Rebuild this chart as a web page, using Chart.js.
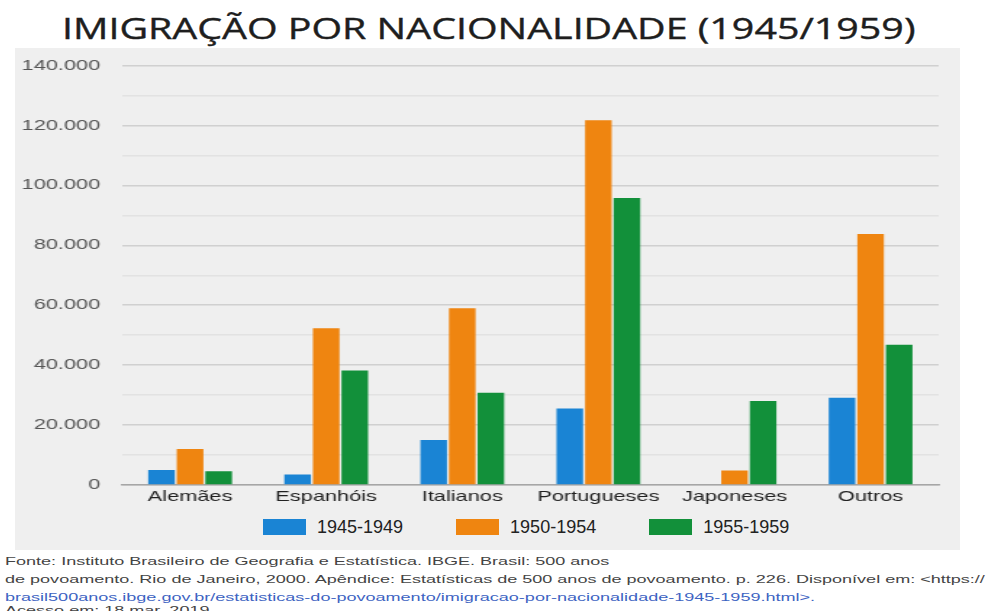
<!DOCTYPE html>
<html lang="pt-BR">
<head>
<meta charset="utf-8">
<title>Imigração por nacionalidade (1945/1959)</title>
<script src="https://cdn.jsdelivr.net/npm/chart.js@4"></script>
<style>
  html, body { margin: 0; padding: 0; background: #fff; }
  body { width: 990px; height: 611px; overflow: hidden; position: relative; font-family: "Liberation Sans", Arial, sans-serif; }
  #title { position: absolute; left: 62px; top: 7px; font-family: "Open Sans", sans-serif; font-size: 30px; line-height: 42px; color: #1e1e1e; -webkit-text-stroke: 0.4px #1e1e1e; white-space: nowrap; transform-origin: 0 0; }
  #panel { position: absolute; left: 15px; top: 48px; width: 945px; height: 502px; background: #efefef; }
  #stretch { position: absolute; left: 0; top: 0; width: 652px; height: 462px; transform: scaleX(1.45); transform-origin: 0 0; }
  #legend { position: absolute; left: 248px; top: 470px; display: flex; align-items: center; }
  .item { display: flex; align-items: center; margin-right: 53px; font-size: 18px; line-height: 18px; color: #222; }
  .box { width: 43px; height: 16px; margin-right: 11px; }
  #footer { position: absolute; left: 5px; top: 552px; font-size: 11.5px; line-height: 18px; color: #444; white-space: nowrap; transform-origin: 0 0; }
  .link { color: #3d63c2; }
  #access { margin-top: -5px; }
</style>
</head>
<body>
<div id="title">IMIGRAÇÃO POR NACIONALIDADE (1945/1959)</div>
<div id="panel">
  <div id="stretch"><canvas id="chart"></canvas></div>
  <div id="legend"></div>
</div>
<div id="footer">
  <div>Fonte: Instituto Brasileiro de Geografia e Estatística. IBGE. Brasil: 500 anos</div>
  <div id="line2">de povoamento. Rio de Janeiro, 2000. Apêndice: Estatísticas de 500 anos de povoamento. p. 226. Disponível em: &lt;https://</div>
  <div class="link">brasil500anos.ibge.gov.br/estatisticas-do-povoamento/imigracao-por-nacionalidade-1945-1959.html&gt;.</div>
  <div id="access">Acesso em: 18 mar. 2019.</div>
</div>
<script>
// * Data
const categories = ["Alemães", "Espanhóis", "Italianos", "Portugueses", "Japoneses", "Outros"];
const periods = ["1945-1949", "1950-1954", "1955-1959"];
const values1945 = [5000, 3500, 15000, 25500, 0, 29100];
const values1950 = [12000, 52300, 59000, 121700, 4800, 83800];
const values1955 = [4600, 38200, 30800, 95800, 28000, 46800];
const yMax = 140000;
const yLabelStep = 20000;
const yGridStep = 10000;

const colors = ["#1a84d4", "#ef8510", "#12903a"];
const series = [values1945, values1950, values1955];

// 140000 -> "140.000"
const fmt = (v) => String(v).replace(/\B(?=(\d{3})+(?!\d))/g, ".");

// * Title and footer are stretched like the picture
const title = document.getElementById("title");
title.style.transform = "scaleX(" + (853 / title.offsetWidth) + ")";
const footer = document.getElementById("footer");
const line2 = document.getElementById("line2");
footer.style.transform = "scaleX(" + (980 / line2.scrollWidth) + ")";

// * Legend
const legend = document.getElementById("legend");
periods.forEach((p, i) => {
  const item = document.createElement("div");
  item.className = "item";
  item.innerHTML = '<span class="box" style="background:' + colors[i] + '"></span>' + p;
  legend.appendChild(item);
});

// * Chart
Chart.defaults.font.family = '"Liberation Sans", Arial, sans-serif';

const ctx = document.getElementById("chart").getContext("2d");
const chart = new Chart(ctx, {
  type: "bar",
  data: {
    labels: categories,
    datasets: periods.map((p, i) => ({
      label: p,
      data: series[i],
      backgroundColor: colors[i],
      borderWidth: 0,
    })),
  },
  options: {
    responsive: true,
    maintainAspectRatio: false,
    animation: false,
    layout: { padding: { top: 17.5, right: 15, bottom: 1, left: 0 } },
    plugins: { legend: { display: false }, tooltip: { enabled: false } },
    datasets: { bar: { categoryPercentage: 0.63, barPercentage: 0.93 } },
    scales: {
      x: {
        grid: { display: false, drawTicks: false },
        border: { color: "#a6a6a6", width: 1.5 },
        ticks: { color: "#222", font: { size: 15 }, padding: 3 },
      },
      y: {
        min: 0,
        max: yMax,
        afterFit: (s) => {
          s.width = 73.8;
          s.paddingTop = 0;
          s.paddingBottom = 0;
        },
        border: { display: false },
        grid: {
          drawTicks: false,
          lineWidth: 1.5,
          color: (c) => (c.tick.value % yLabelStep === 0 ? "#d0d0d0" : "#e2e2e2"),
        },
        ticks: {
          stepSize: yGridStep,
          padding: 15,
          color: "#555",
          font: { size: 15 },
          callback: (v) => (v % yLabelStep === 0 ? fmt(v) : ""),
        },
      },
    },
  },
});
</script>
</body>
</html>
